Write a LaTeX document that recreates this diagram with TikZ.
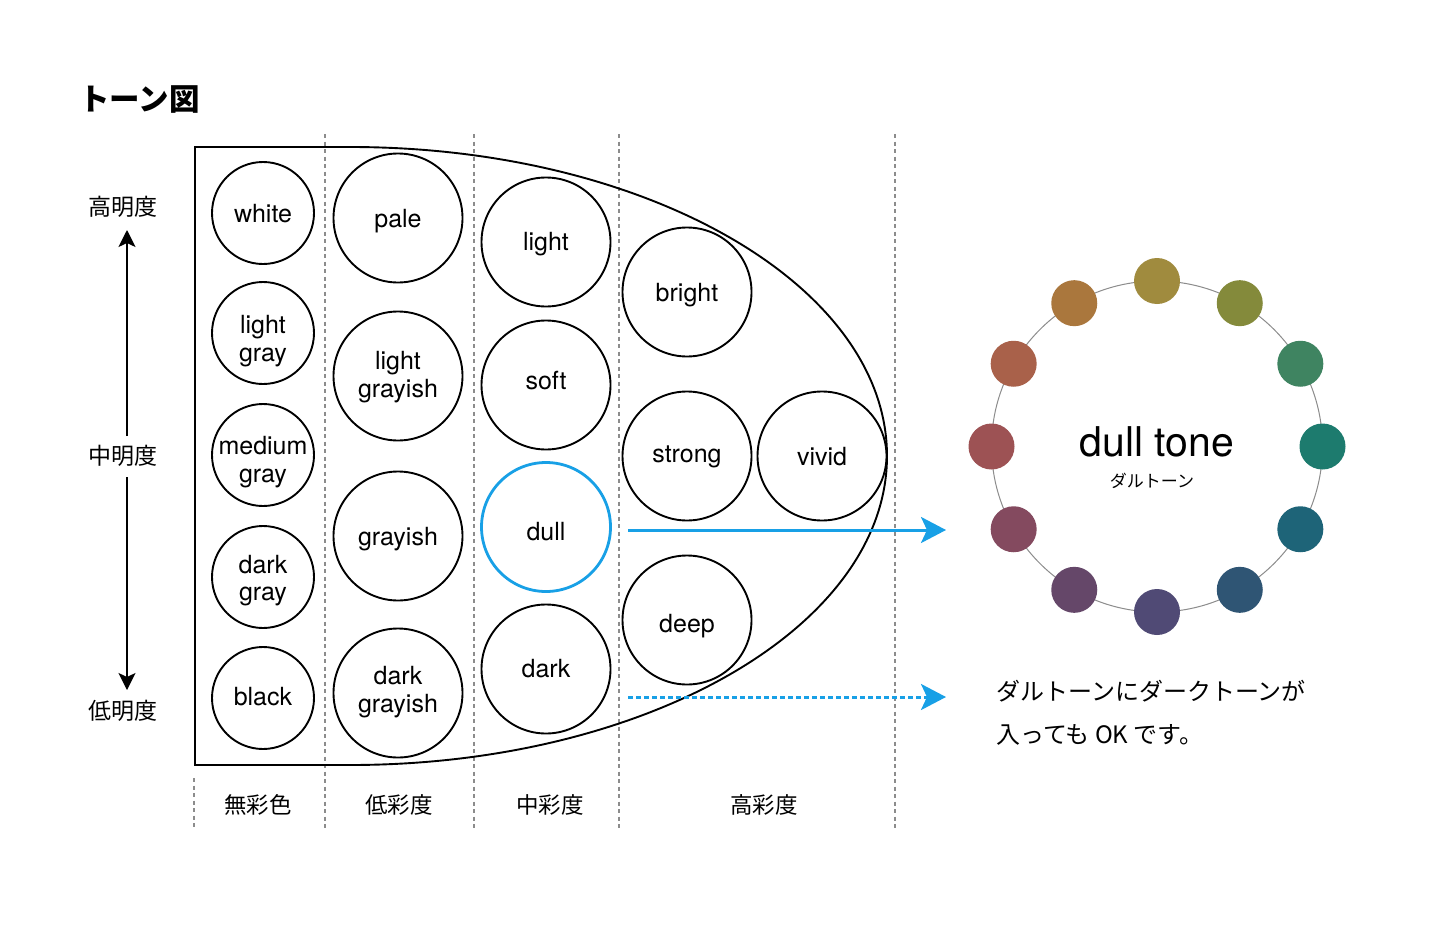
\documentclass[tikz,border=0pt]{standalone}
\usepackage{fontspec}
\setmainfont{TeX Gyre Heros}
\newfontfamily\jp{Noto Sans CJK JP}
\usetikzlibrary{arrows.meta,calc}
\definecolor{toneblue}{RGB}{24,160,230}
\definecolor{sepgray}{RGB}{140,140,140}
\definecolor{hA}{HTML}{A08B3E}
\definecolor{hB}{HTML}{848A3B}
\definecolor{hC}{HTML}{3F8461}
\definecolor{hD}{HTML}{1D7B6E}
\definecolor{hE}{HTML}{1E6478}
\definecolor{hF}{HTML}{2F5574}
\definecolor{hG}{HTML}{504A75}
\definecolor{hH}{HTML}{654769}
\definecolor{hI}{HTML}{844A5F}
\definecolor{hJ}{HTML}{9D5254}
\definecolor{hK}{HTML}{A9614A}
\definecolor{hL}{HTML}{AA773D}
\begin{document}
\begin{tikzpicture}[x=1pt,y=-1pt,
  tone/.style={circle, draw, line width=1.9pt, inner sep=0pt},
  smalltone/.style={tone, minimum size=102pt},
  bigtone/.style={tone, minimum size=129pt},
  tonetext/.style={anchor=base, inner sep=0pt, font=\fontsize{25}{30}\selectfont},
  jplab/.style={font=\jp\fontsize{23}{28}\selectfont},
  chromalab/.style={font=\jp\fontsize{22.5}{27}\selectfont},
  sepline/.style={draw=sepgray, line width=1.4pt, dash pattern=on 4pt off 3.5pt},
  hue/.style={circle, minimum size=46pt, inner sep=0pt},
  axisarrow/.style={line width=1.7pt, -{Stealth[length=17pt,width=17pt,inset=4pt]}},
  bluearrow/.style={draw=toneblue, line width=3pt, -{Stealth[length=25pt,width=26pt,inset=6pt]}}]
\useasboundingbox (0,0) rectangle (1431,931);
\fill[white] (0,0) rectangle (1431,931);

% title
\node[font=\jp\bfseries\fontsize{30.5}{36}\selectfont, anchor=west, inner sep=0pt] (title) at (79,100) {トーン図};

% separators
\coordinate (s1t) at (325,134); \coordinate (s1b) at (325,830);
\coordinate (s2t) at (474,134); \coordinate (s2b) at (474,830);
\coordinate (s3t) at (619,134); \coordinate (s3b) at (619,830);
\coordinate (s4t) at (895,134); \coordinate (s4b) at (895,830);
\coordinate (s0t) at (194,778); \coordinate (s0b) at (194,830);
\foreach \i in {0,1,2,3,4} \draw[sepline] (s\i t) -- (s\i b);

% outline shape
\draw[line width=1.9pt] (350,147) -- (195,147) -- (195,765) -- (350,765)
  arc[start angle=-90, end angle=90, x radius=537pt, y radius=309pt];

% tone circles
\node[smalltone] (white) at (263,213) {};
\node[smalltone] (lgray) at (263,333) {};
\node[smalltone] (mgray) at (263,455) {};
\node[smalltone] (dgray) at (263,577) {};
\node[smalltone] (black) at (263,698) {};
\node[bigtone] (pale) at (398,218) {};
\node[bigtone] (lgrayish) at (398,376) {};
\node[bigtone] (grayish) at (398,536) {};
\node[bigtone] (dgrayish) at (398,693) {};
\node[bigtone] (light) at (546,242) {};
\node[bigtone] (soft) at (546,385) {};
\node[bigtone, draw=toneblue, line width=2.8pt] (dull) at (546,527) {};
\node[bigtone] (dark) at (546,669) {};
\node[bigtone] (bright) at (687,292) {};
\node[bigtone] (strong) at (687,456) {};
\node[bigtone] (deep) at (687,620) {};
\node[bigtone] (vivid) at (822,456) {};

% tone names
\node[tonetext] (t-white) at (263,222) {white};
\node[tonetext] (t-lgray1) at (263,333) {light};
\node[tonetext] (t-lgray2) at (263,361) {gray};
\node[tonetext] (t-mgray1) at (263,454) {medium};
\node[tonetext] (t-mgray2) at (263,482) {gray};
\node[tonetext] (t-dgray1) at (263,573) {dark};
\node[tonetext] (t-dgray2) at (263,600) {gray};
\node[tonetext] (t-black) at (263,705) {black};
\node[tonetext] (t-pale) at (398,227) {pale};
\node[tonetext] (t-lgrayish1) at (398,369) {light};
\node[tonetext] (t-lgrayish2) at (398,397) {grayish};
\node[tonetext] (t-grayish) at (398,545) {grayish};
\node[tonetext] (t-dgrayish1) at (398,684) {dark};
\node[tonetext] (t-dgrayish2) at (398,712) {grayish};
\node[tonetext] (t-light) at (546,250) {light};
\node[tonetext] (t-soft) at (546,389) {soft};
\node[tonetext] (t-dull) at (546,540) {dull};
\node[tonetext] (t-dark) at (546,677) {dark};
\node[tonetext] (t-bright) at (687,301) {bright};
\node[tonetext] (t-strong) at (687,462) {strong};
\node[tonetext] (t-deep) at (687,632) {deep};
\node[tonetext] (t-vivid) at (822,465) {vivid};

% lightness axis
\node[jplab] (hi) at (123,207) {高明度};
\node[jplab] (mid) at (123,456) {中明度};
\node[jplab] (lo) at (123,711) {低明度};
\coordinate (a1s) at (127,436); \coordinate (a1e) at (127,230);
\coordinate (a2s) at (127,477); \coordinate (a2e) at (127,690);
\draw[axisarrow] (a1s) -- (a1e);
\draw[axisarrow] (a2s) -- (a2e);

% chroma labels
\node[chromalab] (c0) at (258,805) {無彩色};
\node[chromalab] (c1) at (399,805) {低彩度};
\node[chromalab] (c2) at (550,805) {中彩度};
\node[chromalab] (c3) at (764,805) {高彩度};

% blue arrows
\coordinate (bs) at (628,530); \coordinate (be) at (946,530);
\coordinate (ds) at (628,697); \coordinate (de) at (946,697);
\draw[bluearrow] (bs) -- (be);
\draw[bluearrow, dash pattern=on 5pt off 3pt] (ds) -- (de);

% colour wheel
\coordinate (wc) at (1157,446.5);
\draw[sepgray, line width=1pt] (wc) circle[radius=165.5pt];
\foreach \c [count=\k from 0] in {hA,hB,hC,hD,hE,hF,hG,hH,hI,hJ,hK,hL} {
  \pgfmathsetmacro{\ang}{90-30*\k}
  \node[hue, fill=\c] (hue\k) at ($(wc)+(\ang:165.5pt)$) {};
}
\node[font=\fontsize{41}{48}\selectfont] (dt) at (1157,442) {dull tone};
\node[font=\jp\fontsize{17}{20}\selectfont] (dtk) at (1152,481) {ダルトーン};

% note
\node[font=\jp\fontsize{24}{43}\selectfont, anchor=west, align=left, inner sep=0pt] (note) at (996,712.5)
  {ダルトーンにダークトーンが\\入っても OK です。};
\end{tikzpicture}
\end{document}
